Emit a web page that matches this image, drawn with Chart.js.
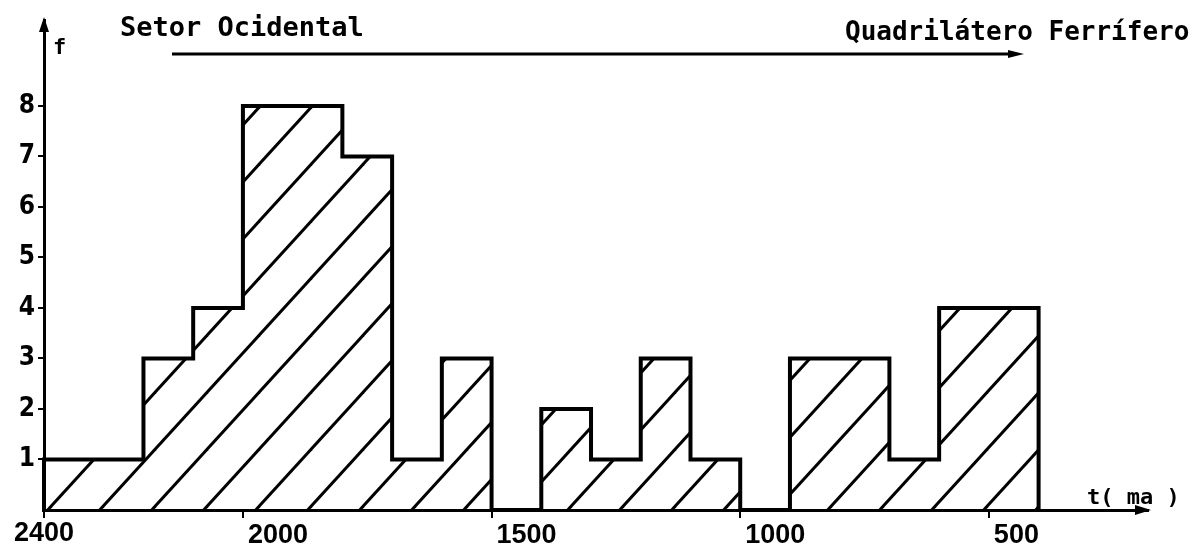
<!DOCTYPE html>
<html><head><meta charset="utf-8">
<script src="https://cdn.jsdelivr.net/npm/chart.js@4.4.1/dist/chart.umd.min.js"></script>
<style>html,body{margin:0;padding:0;background:#fff}#wrap{width:1203px;height:554px;position:relative}</style>
</head><body><div id="wrap"><canvas id="c"></canvas></div>
<script>
// ---- data ----
const binEdges = [2400,2200,2100,2000,1800,1700,1600,1500,1400,1300,1200,1100,1000,900,700,600,400];
const binCounts = [1,3,4,8,7,1,3,0,2,1,3,1,0,3,1,4];
const xTickValues = [2400,2000,1500,1000,500];
const xTickLabels = ['2400','2000','1500','1000','500'];
const yTickValues = [1,2,3,4,5,6,7,8];
const titleLeft = 'Setor Ocidental';
const titleRight = 'Quadrilátero Ferrífero';
const xAxisName = 't( ma )';
const yAxisName = 'f';

// histogram outline points (left edge of each bin with its count)
const points = [{x: binEdges[0], y: 0}];
binCounts.forEach((c, i) => points.push({x: binEdges[i], y: c}));
points.push({x: binEdges[binEdges.length - 1], y: 0});

function hatch() {
  const W = 52, H = 57, c = 45;
  const cv = document.createElement('canvas');
  cv.width = W; cv.height = H;
  const g = cv.getContext('2d');
  g.strokeStyle = '#000'; g.lineWidth = 3;
  for (let k = -1; k <= 2; k++) {
    const x0 = c + (k - 1) * W, y0 = H, x1 = c + k * W, y1 = 0;
    const dx = x1 - x0, dy = y1 - y0;
    g.beginPath();
    g.moveTo(x0 - 0.2 * dx, y0 - 0.2 * dy);
    g.lineTo(x1 + 0.2 * dx, y1 + 0.2 * dy);
    g.stroke();
  }
  return g.createPattern(cv, 'repeat');
}

const deco = {
  id: 'deco',
  afterDraw(chart) {
    const ctx = chart.ctx, a = chart.chartArea, xs = chart.scales.x;
    ctx.save();
    ctx.fillStyle = '#000'; ctx.strokeStyle = '#000';
    // y axis arrow
    ctx.beginPath();
    ctx.moveTo(a.left, a.top - 3); ctx.lineTo(a.left - 5, a.top + 12); ctx.lineTo(a.left + 5, a.top + 12);
    ctx.closePath(); ctx.fill();
    // x axis arrow
    ctx.beginPath();
    ctx.moveTo(a.right + 3, a.bottom); ctx.lineTo(a.right - 13, a.bottom - 5); ctx.lineTo(a.right - 13, a.bottom + 5);
    ctx.closePath(); ctx.fill();
    // x tick labels
    ctx.font = 'bold 27px "Liberation Sans", Arial, sans-serif';
    ctx.textBaseline = 'middle';
    xTickValues.forEach((v, i) => {
      const px = xs.getPixelForValue(v);
      if (i === 0) { ctx.textAlign = 'center'; ctx.fillText(xTickLabels[i], px, a.bottom + 24); }
      else { ctx.textAlign = 'left'; ctx.fillText(xTickLabels[i], px + 5, a.bottom + 26); }
    });
    // axis names
    ctx.textAlign = 'left'; ctx.textBaseline = 'alphabetic';
    ctx.font = 'bold 22px "DejaVu Sans Mono", monospace';
    ctx.fillText(xAxisName, a.right - 61, a.bottom - 6);
    ctx.fillText(yAxisName, a.left + 9, a.top + 34);
    // titles
    ctx.font = 'bold 27px "DejaVu Sans Mono", monospace';
    ctx.fillText(titleLeft, 120, 36);
    ctx.font = 'bold 26px "DejaVu Sans Mono", monospace';
    ctx.fillText(titleRight, 845, 40);
    // direction arrow
    ctx.lineWidth = 3;
    ctx.beginPath(); ctx.moveTo(172, 54); ctx.lineTo(1012, 54); ctx.stroke();
    ctx.beginPath(); ctx.moveTo(1024, 54); ctx.lineTo(1008, 50); ctx.lineTo(1008, 58); ctx.closePath(); ctx.fill();
    ctx.restore();
  }
};

new Chart(document.getElementById('c'), {
  type: 'line',
  data: { datasets: [{
    data: points, stepped: true, borderColor: '#000', borderWidth: 4, pointRadius: 0,
    fill: 'origin', backgroundColor: hatch(), borderJoinStyle: 'miter', borderCapStyle: 'square', clip: 4
  }]},
  options: {
    responsive: true, maintainAspectRatio: false, animation: false,
    layout: { padding: { left: 0, right: 55, top: 20, bottom: 0 } },
    plugins: { legend: { display: false }, tooltip: { enabled: false } },
    scales: {
      x: {
        type: 'linear', reverse: true, min: 180, max: 2400,
        afterBuildTicks: s => { s.ticks = xTickValues.map(v => ({ value: v })); },
        afterFit: s => { s.height = 44; },
        ticks: { display: false },
        grid: { drawOnChartArea: false, drawTicks: true, tickLength: 8, color: '#000', lineWidth: 2 },
        border: { display: true, color: '#000', width: 3 }
      },
      y: {
        type: 'linear', min: 0, max: 9.7,
        afterBuildTicks: s => { s.ticks = yTickValues.map(v => ({ value: v })); },
        afterFit: s => { s.width = 44; },
        ticks: { color: '#000', padding: 3, font: { family: "'Liberation Sans Narrow','DejaVu Sans Condensed',sans-serif", size: 26, weight: 'bold' } },
        grid: { drawOnChartArea: false, drawTicks: true, tickLength: 6, color: '#000', lineWidth: 2 },
        border: { display: true, color: '#000', width: 3 }
      }
    }
  },
  plugins: [deco]
});
</script>
</body></html>
